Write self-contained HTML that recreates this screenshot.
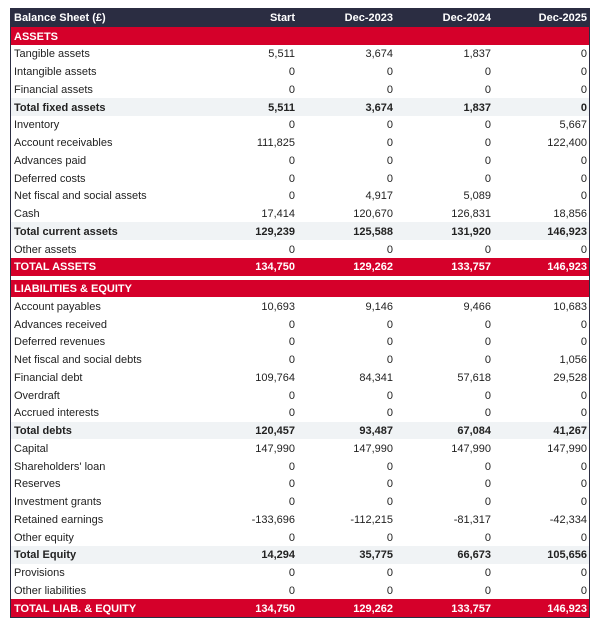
<!DOCTYPE html>
<html><head><meta charset="utf-8"><style>
body{margin:0;background:#fff;width:600px;height:626px;font-family:"Liberation Sans",sans-serif;font-size:11px;color:#222;}
#t{position:absolute;left:10px;top:8px;width:578px;border:1px solid #2b2d42;border-top:none;background:#fff;}
.r{position:relative;height:17.75px;line-height:17.75px;}
.r span{position:absolute;top:1.5px;}
.l{left:3px;}
.c1{right:294px;}.c2{right:196px;}.c3{right:98px;}.c4{right:2px;}
.h{background:#2b2d42;color:#fff;font-weight:bold;height:19px;line-height:19px;}
.h span{top:0.5px;}
.s{background:#d5002a;color:#fff;font-weight:bold;}
.b{background:#f0f3f5;font-weight:bold;}
.g{height:4px;}
</style></head><body>
<div id="t">
<div class="r h"><span class="l">Balance Sheet (£)</span><span class="c1">Start</span><span class="c2">Dec-2023</span><span class="c3">Dec-2024</span><span class="c4">Dec-2025</span></div>
<div class="r s"><span class="l">ASSETS</span></div>
<div class="r"><span class="l">Tangible assets</span><span class="c1">5,511</span><span class="c2">3,674</span><span class="c3">1,837</span><span class="c4">0</span></div>
<div class="r"><span class="l">Intangible assets</span><span class="c1">0</span><span class="c2">0</span><span class="c3">0</span><span class="c4">0</span></div>
<div class="r"><span class="l">Financial assets</span><span class="c1">0</span><span class="c2">0</span><span class="c3">0</span><span class="c4">0</span></div>
<div class="r b"><span class="l">Total fixed assets</span><span class="c1">5,511</span><span class="c2">3,674</span><span class="c3">1,837</span><span class="c4">0</span></div>
<div class="r"><span class="l">Inventory</span><span class="c1">0</span><span class="c2">0</span><span class="c3">0</span><span class="c4">5,667</span></div>
<div class="r"><span class="l">Account receivables</span><span class="c1">111,825</span><span class="c2">0</span><span class="c3">0</span><span class="c4">122,400</span></div>
<div class="r"><span class="l">Advances paid</span><span class="c1">0</span><span class="c2">0</span><span class="c3">0</span><span class="c4">0</span></div>
<div class="r"><span class="l">Deferred costs</span><span class="c1">0</span><span class="c2">0</span><span class="c3">0</span><span class="c4">0</span></div>
<div class="r"><span class="l">Net fiscal and social assets</span><span class="c1">0</span><span class="c2">4,917</span><span class="c3">5,089</span><span class="c4">0</span></div>
<div class="r"><span class="l">Cash</span><span class="c1">17,414</span><span class="c2">120,670</span><span class="c3">126,831</span><span class="c4">18,856</span></div>
<div class="r b"><span class="l">Total current assets</span><span class="c1">129,239</span><span class="c2">125,588</span><span class="c3">131,920</span><span class="c4">146,923</span></div>
<div class="r"><span class="l">Other assets</span><span class="c1">0</span><span class="c2">0</span><span class="c3">0</span><span class="c4">0</span></div>
<div class="r s"><span class="l">TOTAL ASSETS</span><span class="c1">134,750</span><span class="c2">129,262</span><span class="c3">133,757</span><span class="c4">146,923</span></div>
<div class="g"></div>
<div class="r s"><span class="l">LIABILITIES &amp; EQUITY</span></div>
<div class="r"><span class="l">Account payables</span><span class="c1">10,693</span><span class="c2">9,146</span><span class="c3">9,466</span><span class="c4">10,683</span></div>
<div class="r"><span class="l">Advances received</span><span class="c1">0</span><span class="c2">0</span><span class="c3">0</span><span class="c4">0</span></div>
<div class="r"><span class="l">Deferred revenues</span><span class="c1">0</span><span class="c2">0</span><span class="c3">0</span><span class="c4">0</span></div>
<div class="r"><span class="l">Net fiscal and social debts</span><span class="c1">0</span><span class="c2">0</span><span class="c3">0</span><span class="c4">1,056</span></div>
<div class="r"><span class="l">Financial debt</span><span class="c1">109,764</span><span class="c2">84,341</span><span class="c3">57,618</span><span class="c4">29,528</span></div>
<div class="r"><span class="l">Overdraft</span><span class="c1">0</span><span class="c2">0</span><span class="c3">0</span><span class="c4">0</span></div>
<div class="r"><span class="l">Accrued interests</span><span class="c1">0</span><span class="c2">0</span><span class="c3">0</span><span class="c4">0</span></div>
<div class="r b"><span class="l">Total debts</span><span class="c1">120,457</span><span class="c2">93,487</span><span class="c3">67,084</span><span class="c4">41,267</span></div>
<div class="r"><span class="l">Capital</span><span class="c1">147,990</span><span class="c2">147,990</span><span class="c3">147,990</span><span class="c4">147,990</span></div>
<div class="r"><span class="l">Shareholders' loan</span><span class="c1">0</span><span class="c2">0</span><span class="c3">0</span><span class="c4">0</span></div>
<div class="r"><span class="l">Reserves</span><span class="c1">0</span><span class="c2">0</span><span class="c3">0</span><span class="c4">0</span></div>
<div class="r"><span class="l">Investment grants</span><span class="c1">0</span><span class="c2">0</span><span class="c3">0</span><span class="c4">0</span></div>
<div class="r"><span class="l">Retained earnings</span><span class="c1">-133,696</span><span class="c2">-112,215</span><span class="c3">-81,317</span><span class="c4">-42,334</span></div>
<div class="r"><span class="l">Other equity</span><span class="c1">0</span><span class="c2">0</span><span class="c3">0</span><span class="c4">0</span></div>
<div class="r b"><span class="l">Total Equity</span><span class="c1">14,294</span><span class="c2">35,775</span><span class="c3">66,673</span><span class="c4">105,656</span></div>
<div class="r"><span class="l">Provisions</span><span class="c1">0</span><span class="c2">0</span><span class="c3">0</span><span class="c4">0</span></div>
<div class="r"><span class="l">Other liabilities</span><span class="c1">0</span><span class="c2">0</span><span class="c3">0</span><span class="c4">0</span></div>
<div class="r s"><span class="l">TOTAL LIAB. &amp; EQUITY</span><span class="c1">134,750</span><span class="c2">129,262</span><span class="c3">133,757</span><span class="c4">146,923</span></div>
</div>
</body></html>
